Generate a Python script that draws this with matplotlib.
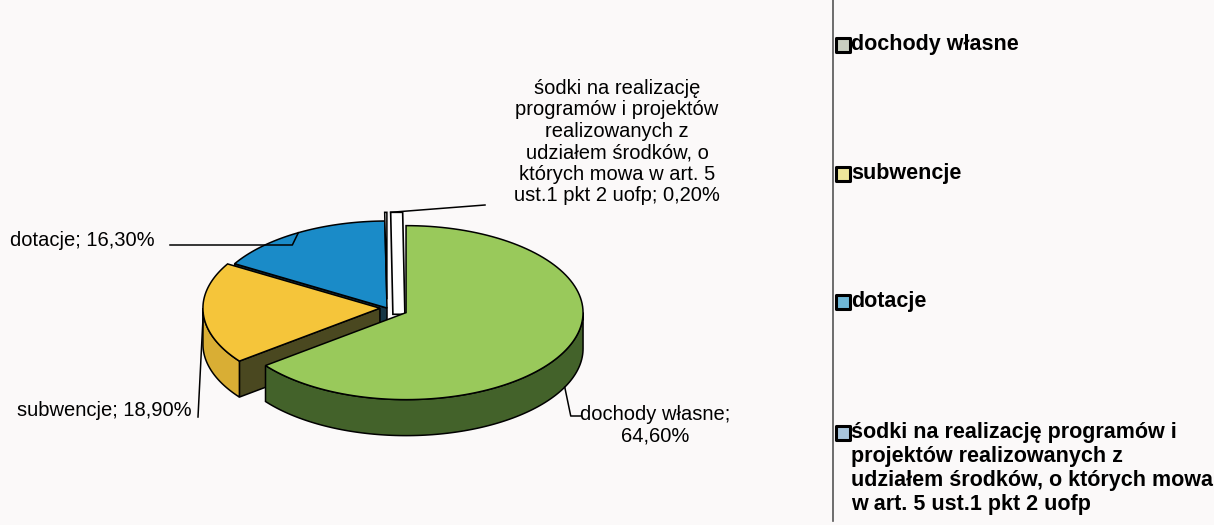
"""3D-style pie of budget income structure with a side legend."""

import numpy as np
import matplotlib
matplotlib.use("Agg")
import matplotlib.pyplot as plt
from matplotlib.patches import Polygon

plt.rcParams["font.family"] = ["Liberation Sans", "DejaVu Sans"]

# --- data ------------------------------------------------------------- #
categories = [
    "dochody własne",
    "subwencje",
    "dotacje",
    "śodki na realizację programów i projektów realizowanych z udziałem "
    "środków, o których mowa w art. 5 ust.1 pkt 2 uofp",
]
shares = [64.6, 18.9, 16.3, 0.2]

pie_labels = [
    "dochody własne;\n64,60%",
    "subwencje; 18,90%",
    "dotacje; 16,30%",
    "śodki na realizację\nprogramów i projektów\nrealizowanych z\nudziałem środków, o\n"
    "których mowa w art. 5\nust.1 pkt 2 uofp; 0,20%",
]
legend_labels = [
    "dochody własne",
    "subwencje",
    "dotacje",
    "śodki na realizację programów i\nprojektów realizowanych z\n"
    "udziałem środków, o których mowa\nw art. 5 ust.1 pkt 2 uofp",
]

# --- style / layout ---------------------------------------------------- #
top_colors = ["#99C95B", "#F5C53A", "#1A8BC8", "#FFFFFF"]
side_colors = ["#43622A", "#D9AE34", "#14384C", "#FFFFFF"]
wall_colors = ["#3A5522", "#4A4820", "#163646", "#FFFFFF"]
legend_fill = ["#C9CFC0", "#EEE79A", "#6FB7D6", "#A9C6DD"]
explode = [0.12, 0.04, 0.0, 0.10]

BG = "#FBF9F9"
CX, CY = 387, 308
RX, RY, DEPTH = 177, 87, 36


def rim(center, ang, r=1.0):
    a = np.radians(ang)
    return np.array([center[0] + r * RX * np.sin(a), center[1] - r * RY * np.cos(a)])


def arc(center, a0, a1, n=120):
    angs = np.linspace(a0, a1, n)
    return np.array([rim(center, a) for a in angs])


def slice_center(i, a0, a1):
    mid = (a0 + a1) / 2
    off = rim((0, 0), mid, explode[i])
    return np.array([CX, CY]) + off


def draw_top(ax, c, a0, a1, color, z):
    pts = np.vstack([[c], arc(c, a0, a1)])
    ax.add_patch(Polygon(pts, closed=True, fc=color, ec="black", lw=1.1, zorder=z))


def draw_side(ax, c, a0, a1, color, z):
    lo, hi = max(a0, 90), min(a1, 270)
    if lo >= hi:
        return
    upper = arc(c, lo, hi)
    lower = upper[::-1] + [0, DEPTH]
    ax.add_patch(Polygon(np.vstack([upper, lower]), closed=True,
                         fc=color, ec="black", lw=1.1, zorder=z))


def draw_wall(ax, c, ang, color, z):
    r = rim(c, ang)
    pts = [c, r, r + [0, DEPTH], np.array(c) + [0, DEPTH]]
    ax.add_patch(Polygon(pts, closed=True, fc=color, ec="black", lw=1.1, zorder=z))


fig = plt.figure(figsize=(12.14, 5.25), dpi=100, facecolor=BG)
ax = fig.add_axes([0, 0, 1, 1])
ax.set_xlim(0, 1214)
ax.set_ylim(525, 0)
ax.set_facecolor(BG)
ax.axis("off")

bounds = np.concatenate([[0], np.cumsum(shares) / sum(shares) * 360])
centers = [slice_center(i, bounds[i], bounds[i + 1]) for i in range(len(shares))]

# blue (back)
draw_wall(ax, centers[2], bounds[2], wall_colors[2], 1)
draw_top(ax, centers[2], bounds[2], bounds[3], top_colors[2], 2)

# tiny slice: thin white wedge standing between blue and green
c3 = centers[3]
r3 = rim(c3, bounds[3])
gap, w = 6, 12
wall3 = [r3 + [gap, 0], r3 + [gap + w, 0], c3 + [gap + w, 15], c3 + [gap, 15]]
ax.add_patch(Polygon(wall3, closed=True, fc="white", ec="black", lw=1.2, zorder=3))
draw_top(ax, c3, bounds[3], bounds[4], top_colors[3], 3)

# yellow
draw_wall(ax, centers[1], bounds[1], wall_colors[1], 4)
draw_side(ax, centers[1], bounds[1], bounds[2], side_colors[1], 5)
draw_top(ax, centers[1], bounds[1], bounds[2], top_colors[1], 6)

# green (front)
draw_side(ax, centers[0], bounds[0], bounds[1], side_colors[0], 7)
draw_top(ax, centers[0], bounds[0], bounds[1], top_colors[0], 8)

# --- data labels with leader lines ------------------------------------- #
fs = 14.5
lk = dict(color="black", lw=1.1, zorder=9)

# dochody własne
p0 = rim(centers[0], (bounds[0] + bounds[1]) / 2) + [0, DEPTH]
ax.plot([p0[0], p0[0] + 6, p0[0] + 16], [p0[1], 416, 416], **lk)
ax.text(655, 425, pie_labels[0], fontsize=fs, ha="center", va="center",
        linespacing=1.15)

# subwencje
p1 = rim(centers[1], (bounds[1] + bounds[2]) / 2)
ax.plot([p1[0], 198], [p1[1], 417], **lk)
ax.text(192, 410, pie_labels[1], fontsize=fs, ha="right", va="center")

# dotacje
p2 = rim(centers[2], (bounds[2] + bounds[3]) / 2)
ax.plot([170, p2[0] - 6, p2[0]], [245, 245, p2[1]], **lk)
ax.text(10, 240, pie_labels[2], fontsize=fs, ha="left", va="center")

# small slice
ax.plot([r3[0] + gap, 485], [r3[1], 205], **lk)
ax.text(617, 142, pie_labels[3], fontsize=fs, ha="center", va="center",
        linespacing=1.17)

# --- legend ------------------------------------------------------------ #
ax.plot([833, 833], [0, 521], color="#555555", lw=1.2)
legend_y = [45, 174, 302, 433]
for y, lab, fc in zip(legend_y, legend_labels, legend_fill):
    ax.scatter([843], [y], marker="s", s=90, fc=fc, ec="black", lw=2.2, zorder=5)
    ax.text(851, y - 11, lab, fontsize=15.5, fontweight="bold", ha="left",
            va="top", linespacing=1.19)

fig.savefig("out.png", dpi=100, facecolor=BG)
